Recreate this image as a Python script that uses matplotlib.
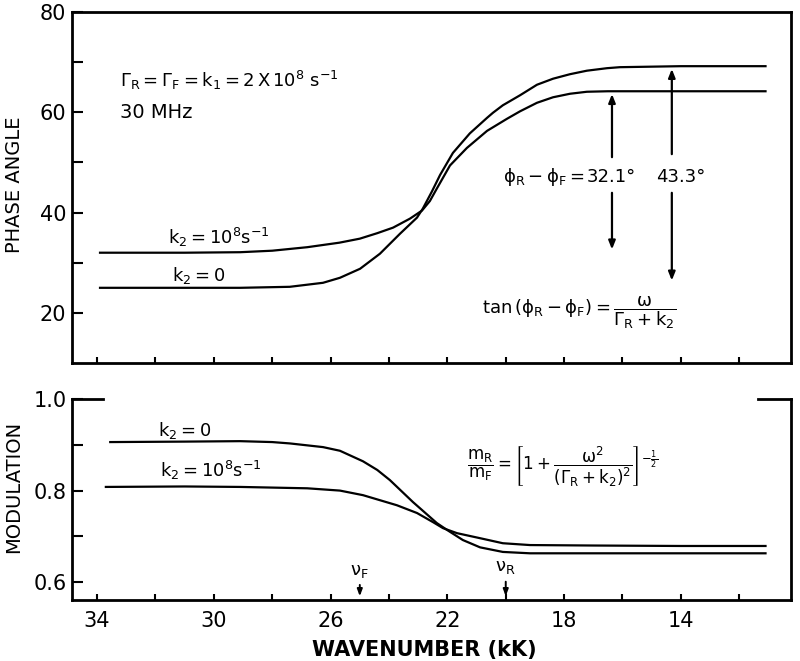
import matplotlib
matplotlib.use("Agg")
import matplotlib.pyplot as plt
from matplotlib.ticker import FixedLocator, NullFormatter

plt.rcParams['font.family'] = ['DejaVu Sans']
plt.rcParams['mathtext.fontset'] = 'dejavusans'
plt.rcParams['mathtext.default'] = 'regular'

# ---------------- data ----------------
# Phase angle (deg) vs wavenumber (kK)
wn_phase_k2_1e8 = [33.9, 31.0, 29.1, 28.0, 26.8, 25.7, 25.0, 24.4, 23.86, 23.28,
                   22.87, 22.6, 22.36, 21.91, 21.33, 20.64, 19.96, 19.51, 18.93,
                   18.38, 17.8, 17.22, 16.5, 14.0, 11.1]
phase_k2_1e8 = [32.0, 32.0, 32.1, 32.4, 33.1, 34.0, 34.8, 35.9, 37.0, 38.8,
                40.4, 42.3, 44.8, 49.4, 52.9, 56.3, 58.7, 60.2, 61.9,
                63.0, 63.7, 64.1, 64.2, 64.2, 64.2]

wn_phase_k2_0 = [33.9, 31.0, 29.1, 27.4, 26.26, 25.68, 24.99, 24.31, 23.62, 23.04,
                 22.84, 22.53, 22.25, 21.81, 21.23, 20.64, 20.44, 20.1, 19.51,
                 18.93, 18.38, 17.8, 17.22, 16.53, 16.09, 14.0, 11.1]
phase_k2_0 = [25.0, 25.0, 25.0, 25.2, 26.0, 27.0, 28.8, 31.8, 35.8, 39.0,
              40.8, 44.2, 47.5, 51.9, 55.8, 58.9, 59.9, 61.4, 63.4,
              65.5, 66.7, 67.6, 68.3, 68.8, 69.0, 69.2, 69.2]

# Modulation vs wavenumber (kK)
wn_mod_k2_0 = [33.55, 31.0, 29.1, 28.0, 27.39, 26.26, 25.68, 24.89, 24.4, 23.97, 23.18,
               22.36, 22.01, 21.47, 20.88, 20.1, 19.17, 16.0, 14.0, 11.1]
mod_k2_0 = [0.906, 0.907, 0.908, 0.906, 0.903, 0.895, 0.887, 0.864, 0.845, 0.823, 0.775,
            0.729, 0.714, 0.692, 0.676, 0.666, 0.663, 0.663, 0.663, 0.663]

wn_mod_k2_1e8 = [33.7, 31.0, 29.1, 26.8, 25.68, 24.89, 23.73, 23.04, 22.49, 22.15,
                 21.67, 20.88, 20.1, 19.17, 17.0, 14.0, 11.1]
mod_k2_1e8 = [0.808, 0.809, 0.808, 0.805, 0.800, 0.790, 0.768, 0.751, 0.731, 0.718,
              0.707, 0.696, 0.685, 0.681, 0.680, 0.679, 0.679]

x_major_labeled = [34, 30, 26, 22, 18, 14]
x_minor = [32, 28, 24, 20, 16, 12]
phase_major = [20, 40, 60, 80]
phase_minor = [30, 50, 70]
mod_major = [0.6, 0.8, 1.0]
mod_minor = [0.7, 0.9]
mod_ticklabels = ["0.6", "0.8", "1.0"]

nu_F = 25.0
nu_R = 20.0
dphi_k2_1e8 = 32.1
dphi_k2_0 = 43.3

# ---------------- figure ----------------
fig = plt.figure(figsize=(8.0, 6.61), dpi=100)
ax1 = fig.add_axes([0.09, 0.4508, 0.899, 0.531])
ax2 = fig.add_axes([0.09, 0.0923, 0.899, 0.304])

LW = 1.6
TICKFS = 15

for ax in (ax1, ax2):
    ax.set_xlim(34.86, 10.22)
    for s in ax.spines.values():
        s.set_linewidth(2.0)
    ax.xaxis.set_major_locator(FixedLocator(x_major_labeled))
    ax.xaxis.set_minor_locator(FixedLocator(x_minor))
    ax.tick_params(axis='x', which='both', direction='in', length=4, width=1.5,
                   top=False, labelsize=TICKFS, pad=8)
    ax.tick_params(axis='y', which='both', direction='in', length=8, width=1.5,
                   right=False, labelsize=TICKFS, pad=4)

# ---- top panel ----
ax1.plot(wn_phase_k2_1e8, phase_k2_1e8, color='black', lw=LW)
ax1.plot(wn_phase_k2_0, phase_k2_0, color='black', lw=LW)
ax1.set_ylim(10, 80)
ax1.yaxis.set_major_locator(FixedLocator(phase_major))
ax1.yaxis.set_minor_locator(FixedLocator(phase_minor))
ax1.xaxis.set_major_formatter(NullFormatter())

ax1.text(33.21, 66.4, r"$\Gamma_R = \Gamma_F = k_1 = 2\,X\,10^8\ s^{-1}$",
         fontsize=13, ha='left', va='center')
ax1.text(33.21, 60.0, "30 MHz", fontsize=14, ha='left', va='center')
ax1.text(31.57, 35.1, r"$k_2 = 10^8 s^{-1}$", fontsize=13, ha='left', va='center')
ax1.text(31.43, 27.5, r"$k_2 = 0$", fontsize=13, ha='left', va='center')

ax1.text(20.1, 47.1, r"$\phi_R - \phi_F = $", fontsize=13, ha='left', va='center')
ax1.text(16.4, 47.1, f"{dphi_k2_1e8:.1f}°", fontsize=13, ha='center', va='center')
ax1.text(14.0, 47.1, f"{dphi_k2_0:.1f}°", fontsize=13, ha='center', va='center')

arrow_kw = dict(arrowstyle='-|>,head_length=0.5,head_width=0.2', color='black', lw=1.6)
top_k2_1e8 = phase_k2_1e8[-1]
top_k2_0 = phase_k2_0[-1]
ax1.annotate("", xy=(16.36, top_k2_1e8), xytext=(16.36, 50.5), arrowprops=arrow_kw)
ax1.annotate("", xy=(16.36, top_k2_1e8 - dphi_k2_1e8), xytext=(16.36, 44.5), arrowprops=arrow_kw)
ax1.annotate("", xy=(14.31, top_k2_0), xytext=(14.31, 51.1), arrowprops=arrow_kw)
ax1.annotate("", xy=(14.31, top_k2_0 - dphi_k2_0), xytext=(14.31, 44.5), arrowprops=arrow_kw)

ax1.text(20.8, 20.1, r"$tan\,(\phi_R - \phi_F) = \dfrac{\omega}{\Gamma_R + k_2}$",
         fontsize=13, ha='left', va='center')

# ---- bottom panel ----
ax2.plot(wn_mod_k2_0, mod_k2_0, color='black', lw=LW)
ax2.plot(wn_mod_k2_1e8, mod_k2_1e8, color='black', lw=LW)
ax2.set_ylim(0.561, 1.0)
ax2.yaxis.set_major_locator(FixedLocator(mod_major))
ax2.yaxis.set_minor_locator(FixedLocator(mod_minor))
ax2.set_yticklabels(mod_ticklabels)
ax2.xaxis.set_minor_formatter(NullFormatter())

ax2.spines['top'].set_visible(False)
ax2.plot([0, 0.043], [1, 1], transform=ax2.transAxes, color='black', lw=2.0, clip_on=False)
ax2.plot([0.954, 1.0], [1, 1], transform=ax2.transAxes, color='black', lw=2.0, clip_on=False)

ax2.text(31.9, 0.932, r"$k_2 = 0$", fontsize=13, ha='left', va='center')
ax2.text(31.84, 0.843, r"$k_2 = 10^8 s^{-1}$", fontsize=13, ha='left', va='center')
ax2.text(21.33, 0.852,
         r"$\dfrac{m_R}{m_F} = \left[1 + \dfrac{\omega^2}{(\Gamma_R + k_2)^2}\right]^{-\frac{1}{2}}$",
         fontsize=12, ha='left', va='center')

small_arrow = dict(arrowstyle='-|>,head_length=0.4,head_width=0.15', color='black', lw=1.4)
ax2.text(nu_F, 0.624, r"$\nu_F$", fontsize=13, ha='center', va='center')
ax2.annotate("", xy=(nu_F, 0.563), xytext=(nu_F, 0.600), arrowprops=small_arrow)
ax2.text(nu_R, 0.632, r"$\nu_R$", fontsize=13, ha='center', va='center')
ax2.annotate("", xy=(nu_R, 0.563), xytext=(nu_R, 0.607), arrowprops=small_arrow)

# axis titles
fig.text(14 / 800, 1 - 185 / 661, "PHASE ANGLE", rotation=90, fontsize=14,
         ha='center', va='center')
fig.text(14 / 800, 1 - 487 / 661, "MODULATION", rotation=90, fontsize=14,
         ha='center', va='center')
fig.text(424 / 800, 1 - 650 / 661, "WAVENUMBER (kK)", fontsize=15, fontweight='bold',
         ha='center', va='center')

fig.savefig("out.png", dpi=100)
